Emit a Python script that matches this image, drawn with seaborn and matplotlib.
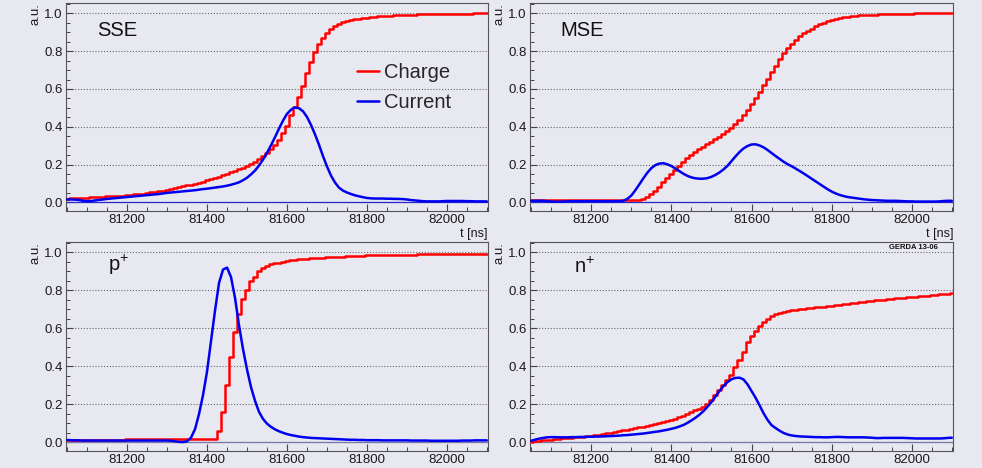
import numpy as np
import pandas as pd
import matplotlib
matplotlib.use("Agg")
import matplotlib.pyplot as plt
import seaborn as sns
from matplotlib.ticker import MultipleLocator, FormatStrFormatter

# ---------------- data (10 ns bins, first bin centre 81050 ns) ----------------
T_FIRST = 81050
T_BIN = 10

panel_names = ["SSE", "MSE", "p$^{+}$", "n$^{+}$"]
series_labels = ["Charge", "Current"]
x_ticks = [81200, 81400, 81600, 81800, 82000]
y_ticks = [0.0, 0.2, 0.4, 0.6, 0.8, 1.0]

sse_current = [
    0.015, 0.015, 0.014, 0.012, 0.008, 0.006, 0.007, 0.010, 0.013, 0.015,
    0.018, 0.020, 0.022, 0.024, 0.026, 0.028, 0.030, 0.032, 0.034, 0.036,
    0.038, 0.040, 0.042, 0.044, 0.047, 0.050, 0.052, 0.054, 0.056, 0.058,
    0.060, 0.062, 0.064, 0.067, 0.070, 0.072, 0.075, 0.078, 0.081, 0.084,
    0.088, 0.093, 0.099, 0.106, 0.117, 0.130, 0.148, 0.168, 0.195, 0.226,
    0.262, 0.302, 0.345, 0.390, 0.432, 0.468, 0.490, 0.502, 0.498, 0.482,
    0.452, 0.410, 0.360, 0.305, 0.245, 0.190, 0.142, 0.105, 0.078, 0.062,
    0.052, 0.044, 0.037, 0.032, 0.027, 0.023, 0.021, 0.020, 0.020, 0.020,
    0.019, 0.019, 0.018, 0.018, 0.017, 0.015, 0.012, 0.010, 0.008, 0.006,
    0.005, 0.005, 0.005, 0.005, 0.006, 0.007, 0.007, 0.007, 0.007, 0.007,
    0.006, 0.006, 0.005, 0.005, 0.005, 0.005,
]
sse_charge = [
    0.020, 0.021, 0.022, 0.023, 0.024, 0.025, 0.026, 0.027, 0.029, 0.030,
    0.032, 0.033, 0.034, 0.035, 0.036, 0.038, 0.040, 0.042, 0.044, 0.046,
    0.049, 0.052, 0.055, 0.058, 0.062, 0.066, 0.070, 0.074, 0.079, 0.084,
    0.089, 0.094, 0.099, 0.104, 0.110, 0.116, 0.122, 0.129, 0.136, 0.143,
    0.150, 0.158, 0.166, 0.175, 0.184, 0.194, 0.204, 0.215, 0.228, 0.243,
    0.260, 0.280, 0.302, 0.332, 0.365, 0.405, 0.460, 0.505, 0.560, 0.615,
    0.685, 0.745, 0.797, 0.840, 0.872, 0.897, 0.918, 0.933, 0.944, 0.952,
    0.958, 0.963, 0.968, 0.972, 0.975, 0.978, 0.980, 0.982, 0.984, 0.986,
    0.987, 0.988, 0.989, 0.990, 0.991, 0.992, 0.993, 0.994, 0.995, 0.995,
    0.996, 0.996, 0.997, 0.997, 0.997, 0.998, 0.998, 0.998, 0.998, 0.999,
    0.999, 0.999, 1.000, 1.002, 1.000, 1.000,
]
mse_current = [
    0.008, 0.008, 0.008, 0.008, 0.006, 0.004, 0.003, 0.003, 0.004, 0.005,
    0.006, 0.006, 0.006, 0.006, 0.006, 0.006, 0.006, 0.006, 0.006, 0.006,
    0.006, 0.006, 0.006, 0.008, 0.018, 0.036, 0.064, 0.095, 0.127, 0.157,
    0.181, 0.197, 0.205, 0.207, 0.201, 0.192, 0.179, 0.165, 0.151, 0.140,
    0.132, 0.127, 0.125, 0.125, 0.128, 0.135, 0.145, 0.158, 0.174, 0.193,
    0.218, 0.243, 0.266, 0.285, 0.298, 0.306, 0.307, 0.301, 0.291, 0.277,
    0.261, 0.245, 0.230, 0.215, 0.202, 0.191, 0.179, 0.166, 0.153, 0.139,
    0.125, 0.111, 0.097, 0.083, 0.069, 0.057, 0.047, 0.039, 0.033, 0.028,
    0.025, 0.022, 0.019, 0.016, 0.014, 0.012, 0.011, 0.010, 0.009, 0.008,
    0.008, 0.008, 0.007, 0.006, 0.005, 0.005, 0.004, 0.004, 0.004, 0.004,
    0.004, 0.004, 0.005, 0.007, 0.008, 0.008,
]
mse_charge = [
    0.011, 0.011, 0.011, 0.011, 0.011, 0.011, 0.011, 0.011, 0.011, 0.011,
    0.011, 0.011, 0.011, 0.011, 0.011, 0.011, 0.011, 0.011, 0.011, 0.011,
    0.011, 0.011, 0.011, 0.011, 0.011, 0.011, 0.011, 0.011, 0.015, 0.028,
    0.045, 0.062, 0.082, 0.105, 0.127, 0.150, 0.172, 0.193, 0.212, 0.232,
    0.250, 0.266, 0.281, 0.295, 0.308, 0.320, 0.333, 0.347, 0.362, 0.377,
    0.395, 0.415, 0.437, 0.461, 0.489, 0.520, 0.552, 0.585, 0.620, 0.655,
    0.690, 0.724, 0.757, 0.788, 0.815, 0.840, 0.861, 0.880, 0.896, 0.909,
    0.920, 0.932, 0.942, 0.951, 0.958, 0.964, 0.970, 0.975, 0.979, 0.983,
    0.986, 0.988, 0.990, 0.991, 0.992, 0.993, 0.994, 0.995, 0.995, 0.996,
    0.996, 0.997, 0.997, 0.998, 0.999, 0.999, 1.000, 1.000, 1.000, 1.000,
    1.000, 1.000, 1.000, 1.000, 1.000, 1.000,
]
pplus_current = [
    0.012, 0.011, 0.010, 0.010, 0.009, 0.009, 0.009, 0.009, 0.009, 0.009,
    0.009, 0.009, 0.009, 0.009, 0.009, 0.009, 0.009, 0.009, 0.009, 0.009,
    0.009, 0.009, 0.009, 0.009, 0.009, 0.009, 0.008, 0.005, 0.002, 0.001,
    0.005, 0.025, 0.070, 0.150, 0.250, 0.374, 0.535, 0.695, 0.840, 0.910,
    0.920, 0.870, 0.760, 0.615, 0.490, 0.383, 0.290, 0.218, 0.160, 0.123,
    0.098, 0.081, 0.068, 0.058, 0.050, 0.043, 0.038, 0.034, 0.030, 0.027,
    0.025, 0.023, 0.022, 0.021, 0.020, 0.019, 0.018, 0.017, 0.016, 0.015,
    0.014, 0.013, 0.013, 0.012, 0.012, 0.011, 0.011, 0.011, 0.011, 0.010,
    0.010, 0.010, 0.010, 0.010, 0.010, 0.010, 0.009, 0.009, 0.009, 0.009,
    0.009, 0.008, 0.008, 0.008, 0.008, 0.008, 0.008, 0.008, 0.008, 0.009,
    0.009, 0.009, 0.010, 0.010, 0.010, 0.010,
]
pplus_charge = [
    0.010, 0.010, 0.010, 0.010, 0.010, 0.010, 0.010, 0.010, 0.010, 0.010,
    0.010, 0.010, 0.010, 0.010, 0.010, 0.016, 0.016, 0.016, 0.016, 0.016,
    0.016, 0.016, 0.016, 0.016, 0.016, 0.016, 0.016, 0.016, 0.016, 0.016,
    0.016, 0.016, 0.016, 0.016, 0.016, 0.016, 0.016, 0.016, 0.060, 0.157,
    0.300, 0.448, 0.582, 0.674, 0.753, 0.800, 0.847, 0.873, 0.900, 0.917,
    0.929, 0.937, 0.942, 0.947, 0.951, 0.955, 0.958, 0.961, 0.963, 0.965,
    0.967, 0.969, 0.970, 0.972, 0.973, 0.974, 0.975, 0.976, 0.977, 0.978,
    0.979, 0.980, 0.981, 0.982, 0.983, 0.984, 0.985, 0.985, 0.986, 0.986,
    0.987, 0.987, 0.988, 0.988, 0.988, 0.989, 0.989, 0.989, 0.990, 0.990,
    0.990, 0.991, 0.991, 0.991, 0.991, 0.992, 0.992, 0.992, 0.992, 0.992,
    0.993, 0.993, 0.993, 0.993, 0.993, 0.993,
]
nplus_current = [
    0.008, 0.014, 0.019, 0.023, 0.026, 0.027, 0.027, 0.026, 0.026, 0.026,
    0.027, 0.027, 0.028, 0.028, 0.029, 0.029, 0.030, 0.030, 0.031, 0.032,
    0.033, 0.034, 0.035, 0.037, 0.038, 0.040, 0.042, 0.044, 0.046, 0.049,
    0.052, 0.055, 0.058, 0.062, 0.066, 0.071, 0.076, 0.083, 0.091, 0.102,
    0.115, 0.129, 0.145, 0.164, 0.187, 0.212, 0.241, 0.270, 0.296, 0.317,
    0.332, 0.339, 0.340, 0.331, 0.305, 0.270, 0.235, 0.195, 0.153, 0.118,
    0.090, 0.075, 0.061, 0.049, 0.041, 0.036, 0.033, 0.031, 0.030, 0.029,
    0.028, 0.027, 0.027, 0.026, 0.026, 0.027, 0.028, 0.028, 0.027, 0.026,
    0.026, 0.026, 0.026, 0.026, 0.025, 0.024, 0.022, 0.022, 0.023, 0.023,
    0.023, 0.023, 0.023, 0.023, 0.022, 0.021, 0.020, 0.020, 0.020, 0.020,
    0.020, 0.020, 0.020, 0.021, 0.023, 0.024,
]
nplus_charge = [
    0.004, 0.006, 0.008, 0.010, 0.012, 0.014, 0.016, 0.018, 0.020, 0.022,
    0.024, 0.026, 0.028, 0.030, 0.032, 0.034, 0.037, 0.040, 0.043, 0.047,
    0.050, 0.054, 0.058, 0.062, 0.066, 0.070, 0.074, 0.078, 0.083, 0.088,
    0.093, 0.097, 0.102, 0.107, 0.112, 0.118, 0.125, 0.133, 0.141, 0.150,
    0.159, 0.168, 0.177, 0.188, 0.202, 0.222, 0.248, 0.275, 0.302, 0.327,
    0.355, 0.397, 0.435, 0.475, 0.530, 0.558, 0.585, 0.615, 0.635, 0.650,
    0.663, 0.676, 0.683, 0.688, 0.692, 0.695, 0.698, 0.700, 0.702, 0.705,
    0.708, 0.711, 0.713, 0.715, 0.718, 0.720, 0.722, 0.725, 0.728, 0.731,
    0.734, 0.736, 0.739, 0.741, 0.743, 0.746, 0.748, 0.750, 0.752, 0.754,
    0.756, 0.758, 0.760, 0.762, 0.763, 0.765, 0.767, 0.769, 0.771, 0.773,
    0.775, 0.777, 0.779, 0.781, 0.783, 0.785,
]

charges = [sse_charge, mse_charge, pplus_charge, nplus_charge]
currents = [sse_current, mse_current, pplus_current, nplus_current]

# ---------------- style ----------------
sns.set_theme(style="ticks")
BG = "#E8E8F0"
plt.rcParams["font.family"] = ["Liberation Sans", "DejaVu Sans"]
plt.rcParams["mathtext.fontset"] = "custom"
plt.rcParams["mathtext.rm"] = "Liberation Sans"
plt.rcParams["mathtext.default"] = "regular"

RED = "#FF0000"
BLUE = "#0000F0"

W, H = 982, 468
fig = plt.figure(figsize=(W / 100, H / 100), dpi=100, facecolor=BG)

XLIM = (81047, 82103)
YLIM = (-0.046, 1.055)

# panel rectangles in pixels: left, top, right, bottom
rects = [(66, 3, 488, 211), (530, 3, 953, 211), (66, 242, 488, 451), (530, 242, 953, 451)]
title_pos = [(0.073, 0.84), (0.071, 0.84), (0.10, 0.862), (0.104, 0.853)]
zero_colors = ["#2828C8", "#2828C8", "#7878A8", "#7878A8"]

for i, (l, t, r, b) in enumerate(rects):
    ax = fig.add_axes([l / W, 1 - b / H, (r - l) / W, (b - t) / H])
    ax.set_facecolor(BG)
    n = len(charges[i])
    df = pd.DataFrame({
        "t": T_FIRST + T_BIN * np.arange(n),
        "Charge": charges[i],
        "Current": currents[i],
    })
    zero_frac = (0 - YLIM[0]) / (YLIM[1] - YLIM[0])
    ax.axhline(0, color=zero_colors[i], lw=0.9, zorder=1.5)
    ax.axvline(XLIM[0] + 1, ymin=0, ymax=zero_frac, color=BLUE, lw=1.4, zorder=1.6)
    sns.lineplot(data=df, x="t", y="Charge", ax=ax, color=RED, lw=1.8,
                 drawstyle="steps-mid", estimator=None,
                 label=series_labels[0] if i == 0 else None, zorder=3)
    sns.lineplot(data=df, x="t", y="Current", ax=ax, color=BLUE, lw=1.8,
                 estimator=None,
                 label=series_labels[1] if i == 0 else None, zorder=4)

    ax.set_xlim(*XLIM)
    ax.set_ylim(*YLIM)
    ax.set_xticks(x_ticks)
    ax.set_yticks(y_ticks)
    ax.xaxis.set_minor_locator(MultipleLocator(50))
    ax.yaxis.set_minor_locator(MultipleLocator(0.05))
    ax.yaxis.set_major_formatter(FormatStrFormatter("%.1f"))
    ax.tick_params(which="major", direction="in", length=5, width=0.8,
                   color="#444444", labelsize=9.5, labelcolor="#1a1a1a", pad=2.5)
    ax.tick_params(which="minor", direction="in", length=2.6, width=0.7,
                   color="#444444")
    ax.tick_params(top=False, right=False, which="both")
    ax.grid(axis="y", which="major", linestyle=(0, (1, 1.6)), color="#6a6a6a", lw=0.8)
    ax.grid(axis="x", visible=False)
    ax.set_axisbelow(True)
    for sp in ax.spines.values():
        sp.set_visible(True)
        sp.set_color("#555555")
        sp.set_linewidth(0.8)

    ax.set_ylabel("a.u.", loc="top", fontsize=9.5, color="#1a1a1a", labelpad=2)
    ax.set_xlabel("t [ns]", loc="right", fontsize=9, color="#1a1a1a", labelpad=1)

    ax.text(title_pos[i][0], title_pos[i][1], panel_names[i], transform=ax.transAxes,
            fontsize=14.5, color="#111111", ha="left", va="baseline")

    if i == 0:
        ax.legend(loc="upper left", bbox_to_anchor=(0.69, 0.71), frameon=False,
                  fontsize=14.5, handlelength=1.1, handletextpad=0.25,
                  labelspacing=0.55, borderpad=0, borderaxespad=0)
    if i == 3:
        ax.text(0.965, 0.973, "GERDA 13-06", transform=ax.transAxes, fontsize=5.5,
                fontweight="bold", ha="right", va="center", color="#111111")

fig.savefig("out.png", dpi=100, facecolor=BG)
